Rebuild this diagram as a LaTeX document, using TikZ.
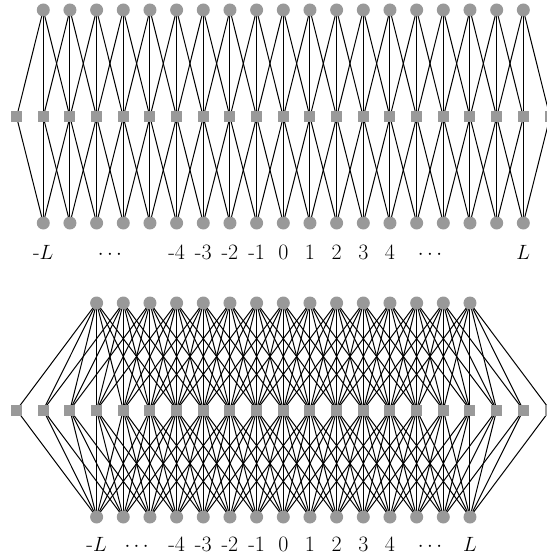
\documentclass[tikz,border=0pt]{standalone}
\usetikzlibrary{backgrounds}
\definecolor{nodegray}{RGB}{153,153,153}
\begin{document}
\begin{tikzpicture}[x=1bp,y=-1bp,
  site/.style={circle,fill=nodegray,inner sep=0pt,minimum size=13bp},
  link/.style={rectangle,fill=nodegray,inner sep=0pt,minimum size=11bp},
  edge/.style={line width=1bp,black},
  lab/.style={font=\fontsize{22}{26}\selectfont,anchor=base,inner sep=0pt}]
\useasboundingbox (0,0) rectangle (547,557);
\def\cx{283.3}\def\sp{26.67}
% ---------- top diagram ----------
\foreach \i in {-9,...,9}{
  \node[site] (ta\i) at ({\cx+\sp*\i},10) {};
  \node[site] (ba\i) at ({\cx+\sp*\i},223) {};
}
\foreach \j in {-10,...,10}
  \node[link] (sa\j) at ({\cx+\sp*\j},117) {};
\begin{pgfonlayer}{background}
\foreach \i in {-9,...,9}{
  \foreach \d in {-1,0,1}{
    \pgfmathtruncatemacro\j{\i+\d}
    \draw[edge] (ta\i.center) -- (sa\j.center) (ba\i.center) -- (sa\j.center);
  }
}
\end{pgfonlayer}
\node[lab] (tlL) at ({\cx-9*\sp},259) {-$L$};
\node[lab] (tld1) at ({\cx-6.5*\sp},259) {$\cdots$};
\foreach \k/\t in {-4/-4,-3/-3,-2/-2,-1/-1,0/0,1/1,2/2,3/3,4/4}
  \node[lab] (tl\k) at ({\cx+\k*\sp},259) {\t};
\node[lab] (tld2) at ({\cx+5.5*\sp},259) {$\cdots$};
\node[lab] (tlR) at ({\cx+9*\sp},259) {$L$};
% ---------- bottom diagram ----------
\foreach \i in {-7,...,7}{
  \node[site] (tb\i) at ({\cx+\sp*\i},303) {};
  \node[site] (bb\i) at ({\cx+\sp*\i},517) {};
}
\foreach \j in {-10,...,10}
  \node[link] (sb\j) at ({\cx+\sp*\j},410) {};
\begin{pgfonlayer}{background}
\foreach \i in {-7,...,7}{
  \foreach \d in {-3,...,3}{
    \pgfmathtruncatemacro\j{\i+\d}
    \draw[edge] (tb\i.center) -- (sb\j.center) (bb\i.center) -- (sb\j.center);
  }
}
\end{pgfonlayer}
\node[lab] (blL) at ({\cx-7*\sp},551) {-$L$};
\node[lab] (bld1) at ({\cx-5.5*\sp},551) {$\cdots$};
\foreach \k/\t in {-4/-4,-3/-3,-2/-2,-1/-1,0/0,1/1,2/2,3/3,4/4}
  \node[lab] (bl\k) at ({\cx+\k*\sp},551) {\t};
\node[lab] (bld2) at ({\cx+5.5*\sp},551) {$\cdots$};
\node[lab] (blR) at ({\cx+7*\sp},551) {$L$};
\end{tikzpicture}
\end{document}
